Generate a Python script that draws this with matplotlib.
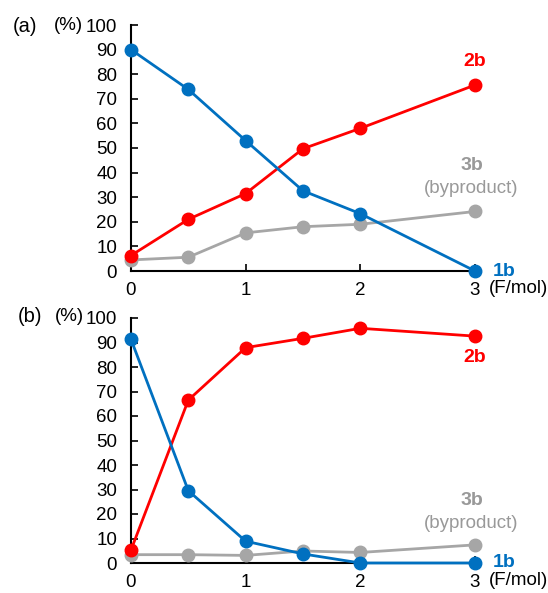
import numpy as np
import matplotlib
matplotlib.use('Agg')
import matplotlib.pyplot as plt

plt.rcParams['font.family'] = ['Liberation Sans', 'DejaVu Sans']

x = [0, 0.5, 1, 1.5, 2, 3]

# (a)
a_1b = [90, 73.8, 53, 32.6, 23.3, 0]
a_2b = [6.3, 21, 31.5, 49.7, 58, 75.6]
a_3b = [4.5, 5.6, 15.5, 18, 19, 24.2]

# (b)
b_1b = [91.3, 29.5, 8.9, 3.7, 0, 0]
b_2b = [5.3, 66.5, 87.9, 91.7, 95.8, 92.6]
b_3b = [3.4, 3.4, 3.1, 4.9, 4.3, 7.4]

blue = '#0070C0'
red = '#FF0000'
gray = '#A6A6A6'

fig = plt.figure(figsize=(5.48, 5.93), dpi=100)
ax1 = fig.add_axes([131 / 548, 1 - 271 / 593, 344 / 548, 246 / 593])
ax2 = fig.add_axes([131 / 548, 1 - 563 / 593, 344 / 548, 245 / 593])


def draw(ax, s1, s2, s3):
    ax.plot(x, s3, color=gray, lw=2, marker='o', ms=9, clip_on=False, zorder=3)
    ax.plot(x, s2, color=red, lw=2, marker='o', ms=9, clip_on=False, zorder=4)
    ax.plot(x, s1, color=blue, lw=2, marker='o', ms=9, clip_on=False, zorder=5)
    ax.set_xlim(0, 3)
    ax.set_ylim(0, 100)
    ax.set_xticks([0, 1, 2, 3])
    ax.set_yticks(range(0, 101, 10))
    ax.spines['top'].set_visible(False)
    ax.spines['right'].set_visible(False)
    ax.spines['left'].set_linewidth(1.5)
    ax.spines['bottom'].set_linewidth(1.5)
    ax.tick_params(axis='both', direction='in', length=5, width=1.2, labelsize=13.5)
    ax.tick_params(axis='y', pad=10)
    ax.tick_params(axis='x', pad=8)
    ax.text(3.38, -7.2, '(F/mol)', fontsize=13.5, ha='center', va='center')


draw(ax1, a_1b, a_2b, a_3b)
draw(ax2, b_1b, b_2b, b_3b)

lab = dict(fontsize=14, fontweight='bold', ha='center', va='center')
ax1.text(3.0, 85, '2b', color=red, **lab)
ax1.text(2.97, 42.7, '3b', color='#999999', **lab)
ax1.text(2.97, 33.5, '(byproduct)', color='#999999', fontsize=13.5, ha='center', va='center')
ax1.text(3.25, 0, '1b', color=blue, **lab)

ax2.text(3.0, 84, '2b', color=red, **lab)
ax2.text(2.97, 25.4, '3b', color='#999999', **lab)
ax2.text(2.97, 16.3, '(byproduct)', color='#999999', fontsize=13.5, ha='center', va='center')
ax2.text(3.25, 0.3, '1b', color=blue, **lab)

fig.text(25 / 548, 1 - 26 / 593, '(a)', fontsize=14.5, ha='center', va='center')
fig.text(68 / 548, 1 - 26 / 593, '(%)', fontsize=13.5, ha='center', va='center')
fig.text(30 / 548, 1 - 317 / 593, '(b)', fontsize=14.5, ha='center', va='center')
fig.text(69 / 548, 1 - 317 / 593, '(%)', fontsize=13.5, ha='center', va='center')

fig.savefig('out.png', dpi=100)
